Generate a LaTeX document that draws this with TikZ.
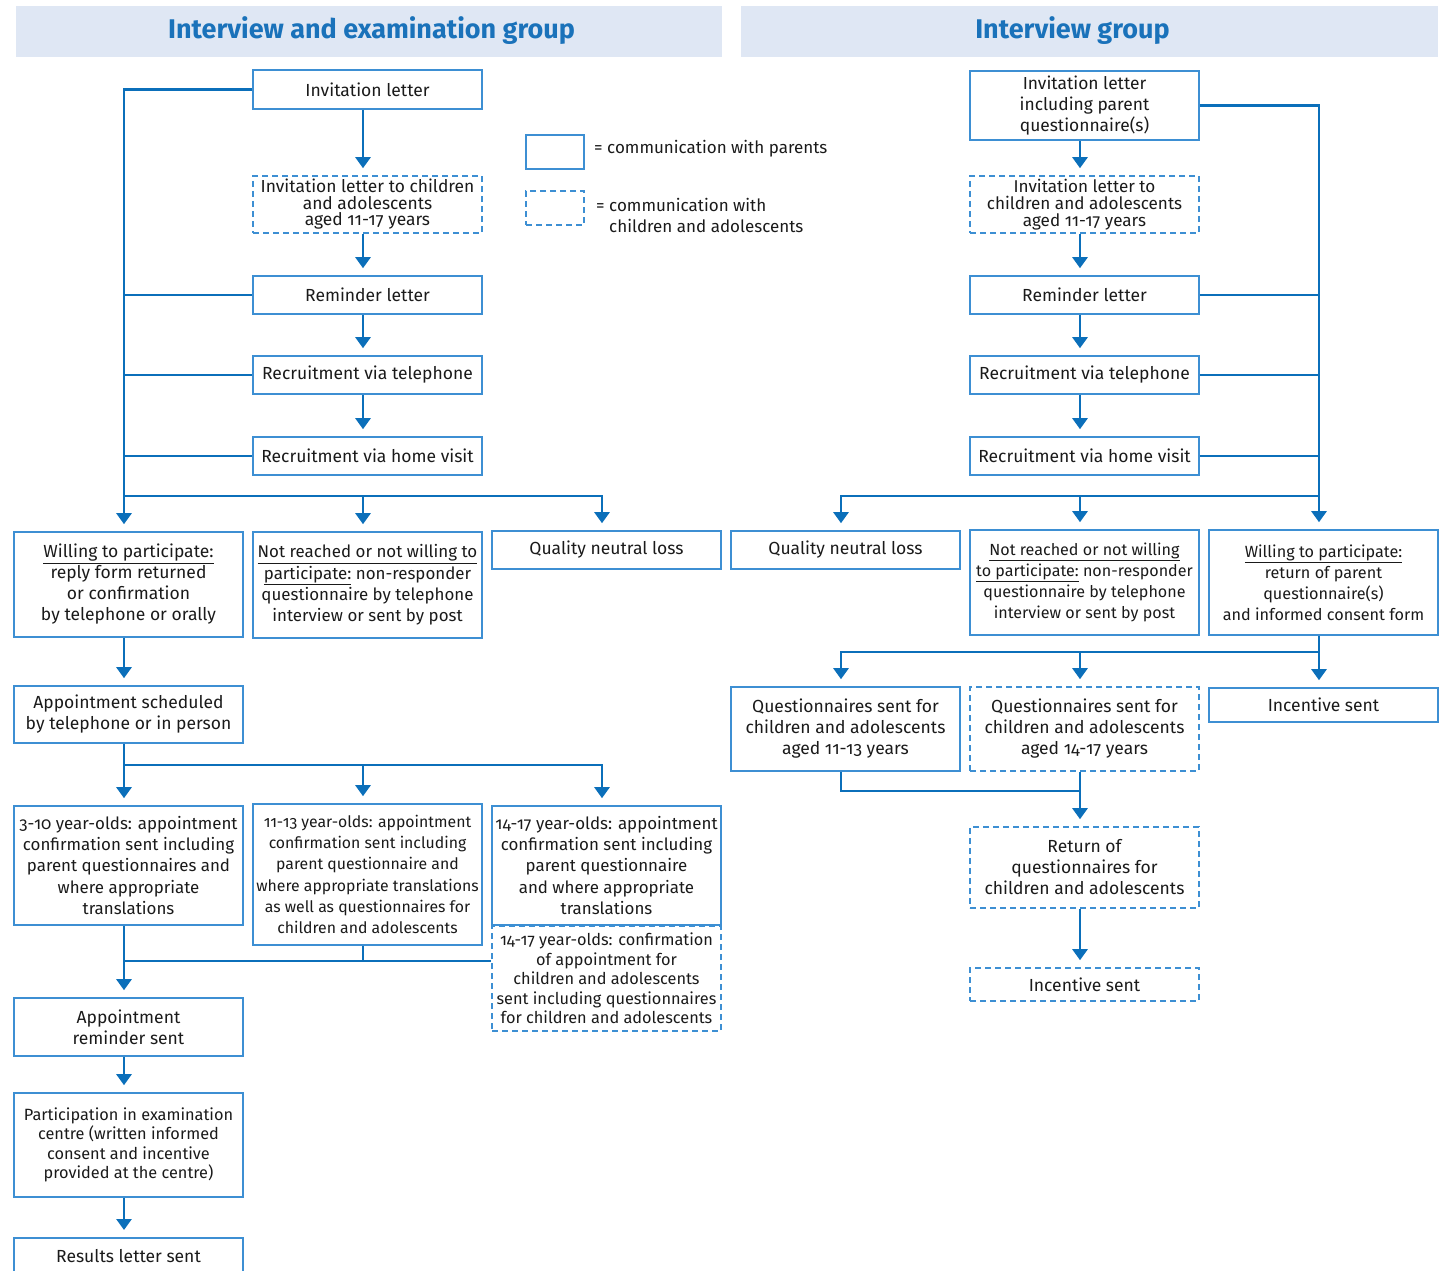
\documentclass[tikz,border=0pt]{standalone}
\usepackage{fontspec}
\usepackage{graphicx}
\setmainfont{Fira Sans}[Numbers=OldStyle]
\usetikzlibrary{arrows.meta,calc}
\definecolor{conncol}{HTML}{0B6FBA}
\definecolor{boxcol}{HTML}{3D8FD3}
\definecolor{hdrfill}{HTML}{DFE7F4}
\definecolor{titlecol}{HTML}{1A72BA}
\definecolor{txtcol}{HTML}{1A1A1A}
\tikzset{
  box/.style={draw=boxcol, line width=1.6pt, rectangle, inner sep=0pt, align=center, text=txtcol, minimum width=229pt, font=\fontsize{17.5}{21}\selectfont},
  dbox/.style={box, dash pattern=on 6pt off 4pt},
  fs/.style={font=\fontsize{16.1}{21}\selectfont},
  fsc/.style={font=\fontsize{15.8}{21.3}\selectfont},
  fss/.style={font=\fontsize{16.3}{19.5}\selectfont},
  ftight/.style={font=\fontsize{16.9}{21.3}\selectfont},
  conn/.style={draw=conncol, line width=2.6pt, -{Triangle[width=15pt,length=11pt]}, shorten >=7pt},
  ln/.style={draw=conncol, line width=2.6pt},
  hdr/.style={fill=hdrfill, draw=none, rectangle, inner sep=0pt},
  ttl/.style={text=titlecol, font=\bfseries\fontsize{27}{30}\selectfont},
  lgt/.style={anchor=west, align=left, text=txtcol, inner sep=0pt, font=\fontsize{17}{21}\selectfont}
}
\begin{document}
\begin{tikzpicture}[x=1pt,y=-1pt]
\useasboundingbox (0,0) rectangle (1443,1271);
% headers
\node[hdr, minimum width=706pt, minimum height=51pt] (hL) at (369,31.5) {};
\node[hdr, minimum width=697pt, minimum height=51pt] (hR) at (1089.5,31.5) {};
\node[ttl] (tL) at (371.5,31) {Interview and examination group};
\node[ttl] (tR) at (1072.5,31) {Interview group};
% legend
\node[box, minimum width=58pt, minimum height=34pt] (lg1) at (555,152) {};
\node[dbox, minimum width=58pt, minimum height=34pt] (lg2) at (555,208) {};
\node[lgt] (lg1t) at (594,149) {= communication with parents};
\node[lgt] (lg2t) at (596,215) {= communication with\\\phantom{= }children and adolescents};
% left column B
\node[box, minimum height=39pt] (inv) at (367.5,89.5) {Invitation letter};
\node[dbox, minimum height=57pt, font=\fontsize{17.4}{16.5}\selectfont] (invc) at (367.5,204.5) {Invitation letter to children\\and adolescents\\aged 11-17 years};
\node[box, minimum height=38pt] (rem) at (367.5,295) {Reminder letter};
\node[box, minimum height=38pt] (tel) at (367.5,375) {Recruitment via telephone};
\node[box, minimum height=38pt] (home) at (367.5,456) {Recruitment via home visit};
\node[box, ftight, minimum height=106pt] (notr) at (367.5,585) {\underline{Not reached or not willing to}\\\underline{participate:} non-responder\\questionnaire by telephone\\interview or sent by post};
\node[box, fsc, minimum height=141pt] (c1113) at (367.5,874.5) {11-13 year-olds: appointment\\confirmation sent including\\parent questionnaire and\\where appropriate translations\\as well as questionnaires for\\children and adolescents};
% left column A
\node[box, minimum height=105pt] (will) at (128.5,584.5) {\underline{Willing to participate:}\\reply form returned\\or confirmation\\by telephone or orally};
\node[box, minimum height=57pt] (appt) at (128.5,714.5) {Appointment scheduled\\by telephone or in person};
\node[box, ftight, minimum height=119pt] (c310) at (128.5,865.5) {3-10 year-olds: appointment\\confirmation sent including\\parent questionnaires and\\where appropriate\\translations};
\node[box, minimum height=58pt] (rmd) at (128.5,1027) {Appointment\\reminder sent};
\node[box, fss, minimum height=104pt] (part) at (128.5,1145) {Participation in examination\\centre (written informed\\consent and incentive\\provided at the centre)};
\node[box, minimum height=36pt, anchor=north] (res) at (128.5,1237) {Results letter sent};
% left column C
\node[box, minimum height=38pt] (qnl) at (606.5,550) {Quality neutral loss};
\node[box, ftight, minimum height=119pt] (c1417) at (606.5,865.5) {14-17 year-olds: appointment\\confirmation sent including\\parent questionnaire\\and where appropriate\\translations};
\node[dbox, fss, minimum height=105pt] (conf) at (606.5,978.5) {14-17 year-olds: confirmation\\of appointment for\\children and adolescents\\sent including questionnaires\\for children and adolescents};
% right column E
\node[box, minimum height=69pt, font=\fontsize{17.4}{21}\selectfont] (rinv) at (1084.5,105.5) {Invitation letter\\including parent\\questionnaire(s)};
\node[dbox, minimum height=57pt, font=\fontsize{17.1}{17}\selectfont] (rinvc) at (1084.5,204.5) {Invitation letter to\\children and adolescents\\aged 11-17 years};
\node[box, minimum height=38pt] (rrem) at (1084.5,295) {Reminder letter};
\node[box, minimum height=38pt] (rtel) at (1084.5,375) {Recruitment via telephone};
\node[box, minimum height=38pt] (rhome) at (1084.5,456) {Recruitment via home visit};
\node[box, fs, minimum height=105pt] (rnotr) at (1084.5,582.5) {\underline{Not reached or not willing}\\\underline{to participate:} non-responder\\questionnaire by telephone\\interview or sent by post};
\node[dbox, minimum height=84pt] (rq1417) at (1084.5,729) {Questionnaires sent for\\children and adolescents\\aged 14-17 years};
\node[dbox, minimum height=81pt] (rret) at (1084.5,867.5) {Return of\\questionnaires for\\children and adolescents};
\node[dbox, minimum height=33pt] (rinc2) at (1084.5,984.5) {Incentive sent};
% right column D
\node[box, minimum height=38pt] (rqnl) at (845.5,550) {Quality neutral loss};
\node[box, minimum height=84pt] (rq1113) at (845.5,729) {Questionnaires sent for\\children and adolescents\\aged 11-13 years};
% right column F
\node[box, minimum height=105pt, font=\fontsize{16.2}{21}\selectfont] (rwill) at (1323.5,582.5) {\underline{Willing to participate:}\\return of parent\\questionnaire(s)\\and informed consent form};
\node[box, minimum height=34pt] (rinc) at (1323.5,705) {Incentive sent};
% junction coordinates
\coordinate (jL) at (124,496);
\coordinate (jL2) at (124,765);
\coordinate (jL3) at (124,961);
\coordinate (jR) at (1319,496);
\coordinate (jR2) at (1319,652);
\coordinate (jR3) at (1080,791);
% left connectors
\draw[conn] (inv.west) -| ([xshift=-4.5pt]will.north);
\draw[ln] (rem.west) -- (rem.west -| jL);
\draw[ln] (tel.west) -- (tel.west -| jL);
\draw[ln] (home.west) -- (home.west -| jL);
\draw[conn] (jL) -| ([xshift=-4.5pt]notr.north);
\draw[conn] (jL) -| ([xshift=-4.5pt]qnl.north);
\draw[conn] ([xshift=-4.5pt]inv.south) -- ([xshift=-4.5pt]invc.north);
\draw[conn] ([xshift=-4.5pt]invc.south) -- ([xshift=-4.5pt]rem.north);
\draw[conn] ([xshift=-4.5pt]rem.south) -- ([xshift=-4.5pt]tel.north);
\draw[conn] ([xshift=-4.5pt]tel.south) -- ([xshift=-4.5pt]home.north);
\draw[conn] ([xshift=-4.5pt]will.south) -- ([xshift=-4.5pt]appt.north);
\draw[ln] ([xshift=-4.5pt]appt.south) -- (jL2);
\draw[conn] (jL2) -- ([xshift=-4.5pt]c310.north);
\draw[conn] (jL2) -| ([xshift=-4.5pt]c1113.north);
\draw[conn] (jL2) -| ([xshift=-4.5pt]c1417.north);
\draw[conn] ([xshift=-4.5pt]c310.south) -- ([xshift=-4.5pt]rmd.north);
\draw[ln] ([xshift=-4.5pt]c1113.south) -- ([xshift=-4.5pt]c1113.south |- jL3);
\draw[ln] (conf.west |- jL3) -- (jL3);
\draw[conn] ([xshift=-4.5pt]rmd.south) -- ([xshift=-4.5pt]part.north);
\draw[conn] ([xshift=-4.5pt]part.south) -- ([xshift=-4.5pt]res.north);
% right connectors
\draw[conn] (rinv.east) -| ([xshift=-4.5pt]rwill.north);
\draw[ln] (rrem.east) -- (rrem.east -| jR);
\draw[ln] (rtel.east) -- (rtel.east -| jR);
\draw[ln] (rhome.east) -- (rhome.east -| jR);
\draw[conn] (jR) -| ([xshift=-4.5pt]rqnl.north);
\draw[conn] (jR) -| ([xshift=-4.5pt]rnotr.north);
\draw[conn] ([xshift=-4.5pt]rinv.south) -- ([xshift=-4.5pt]rinvc.north);
\draw[conn] ([xshift=-4.5pt]rinvc.south) -- ([xshift=-4.5pt]rrem.north);
\draw[conn] ([xshift=-4.5pt]rrem.south) -- ([xshift=-4.5pt]rtel.north);
\draw[conn] ([xshift=-4.5pt]rtel.south) -- ([xshift=-4.5pt]rhome.north);
\draw[conn] ([xshift=-4.5pt]rwill.south) -- ([xshift=-4.5pt]rinc.north);
\draw[conn] (jR2) -| ([xshift=-4.5pt]rq1113.north);
\draw[conn] (jR2) -| ([xshift=-4.5pt]rq1417.north);
\draw[ln] ([xshift=-4.5pt]rq1113.south) |- (jR3);
\draw[conn] ([xshift=-4.5pt]rq1417.south) -- ([xshift=-4.5pt]rret.north);
\draw[conn] ([xshift=-4.5pt]rret.south) -- ([xshift=-4.5pt]rinc2.north);
\end{tikzpicture}
\end{document}
